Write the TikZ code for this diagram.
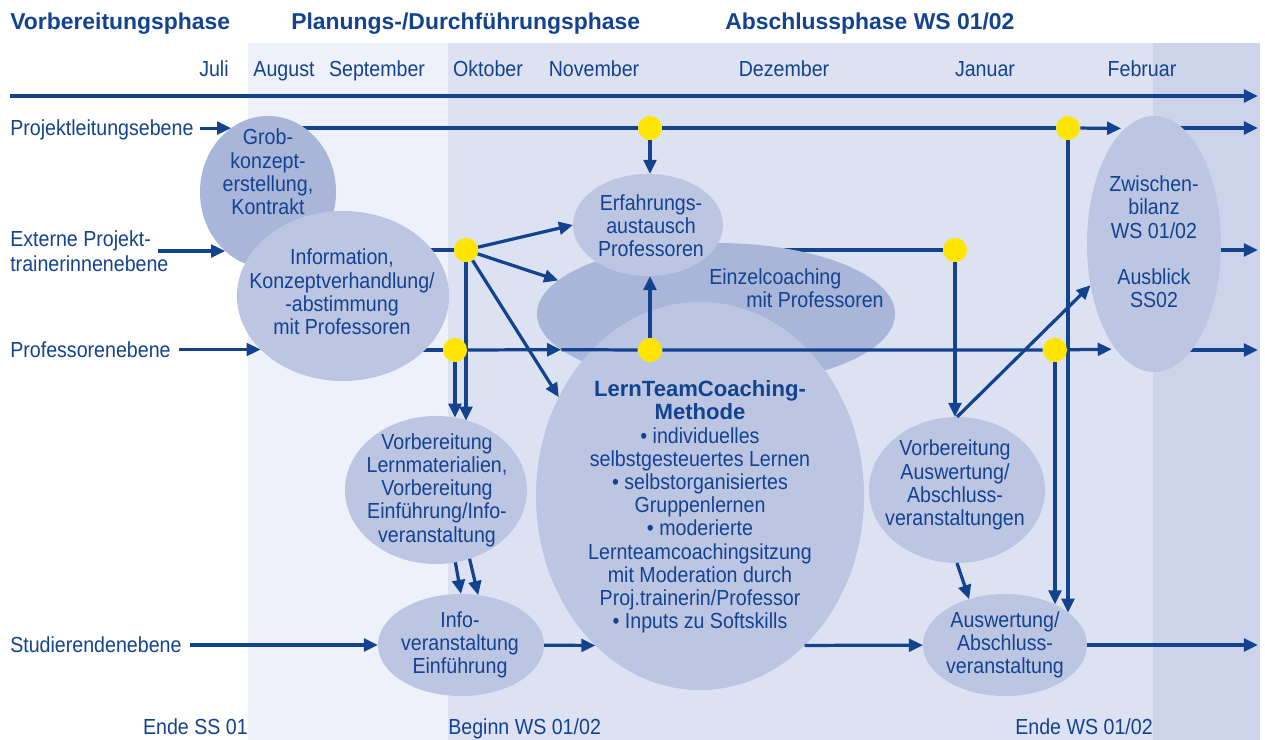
\documentclass[tikz,border=0pt]{standalone}
\usepackage{fontspec}
\setmainfont{Liberation Sans}[FakeStretch=0.9]
\newfontfamily\headfont{Liberation Sans}
\usetikzlibrary{arrows.meta,shapes.geometric}

\definecolor{ink}{HTML}{13428F}
\definecolor{bandA}{HTML}{EEF1F9}
\definecolor{bandB}{HTML}{DDE2F2}
\definecolor{bandC}{HTML}{CDD3EA}
\definecolor{blobA}{HTML}{BCC6E3}
\definecolor{blobB}{HTML}{A9B5D9}
\definecolor{dotY}{HTML}{FFE500}

\pgfdeclarelayer{bands}
\pgfdeclarelayer{under}
\pgfdeclarelayer{front}
\pgfsetlayers{bands,under,main,front}

\begin{document}
\begin{tikzpicture}[x=0.025cm, y=-0.025cm,
  lane/.style={draw=ink, line width=2.3pt},
  tip/.style={-{Triangle[length=10pt,width=9pt]}},
  blob/.style={ellipse, fill=blobA, inner sep=0pt, outer sep=0pt},
  darkblob/.style={blob, fill=blobB},
  txt/.style={font=\fontsize{15.5}{16.5}\selectfont, text=ink, align=center, inner sep=0pt},
  lab/.style={txt, anchor=base west},
  head/.style={font=\headfont\bfseries\fontsize{16.3}{18}\selectfont, text=ink, inner sep=0pt, anchor=base west},
  dot/.style={circle, fill=dotY, minimum size=0.6cm, inner sep=0pt}]

\useasboundingbox (0,0) rectangle (1265,740);

% Phase bands
\begin{pgfonlayer}{bands}
\fill[bandA] (248,43) rectangle (448,740);
\fill[bandB] (448,43) rectangle (1153,740);
\fill[bandC] (1153,43) rectangle (1260,740);
\end{pgfonlayer}

% Phase titles
\node[head] (hVor) at (10,30) {Vorbereitungsphase};
\node[head] (hPlan) at (291,30) {Planungs-/Durchführungsphase};
\node[head] (hAbs) at (725,30) {Abschlussphase WS 01/02};

% Months
\node[txt, anchor=base] (mJul) at (214,77) {Juli};
\node[txt, anchor=base] (mAug) at (284,77) {August};
\node[txt, anchor=base] (mSep) at (377,77) {September};
\node[txt, anchor=base] (mOkt) at (488,77) {Oktober};
\node[txt, anchor=base] (mNov) at (594,77) {November};
\node[txt, anchor=base] (mDez) at (784,77) {Dezember};
\node[txt, anchor=base] (mJan) at (985,77) {Januar};
\node[txt, anchor=base] (mFeb) at (1142,77) {Februar};

% Levels
\node[lab] (lab1) at (10,136) {Projektleitungsebene};
\node[lab] (lab2a) at (10,247) {Externe Projekt-};
\node[lab] (lab2b) at (10,272) {trainerinnenebene};
\node[lab] (lab4) at (10,358) {Professorenebene};
\node[lab] (lab5) at (10,653) {Studierendenebene};

% Semester marks
\node[txt, anchor=base east] (sEnde) at (248,735) {Ende SS 01};
\node[txt, anchor=base west] (sBeg) at (448,735) {Beginn WS 01/02};
\node[txt, anchor=base east] (sEndeWS) at (1153,735) {Ende WS 01/02};

% Ellipses
\node[darkblob, minimum width=3.4cm, minimum height=3.8cm] (grob) at (268,192) {};
\node[blob, minimum width=5.3cm, minimum height=4.25cm] (info) at (343,296) {};
\node[darkblob, minimum width=8.95cm, minimum height=3.55cm] (einzel) at (716,314) {};
\node[blob, minimum width=3.75cm, minimum height=2.55cm] (erf) at (648,225) {};
\node[blob, minimum width=8.2cm, minimum height=9.7cm] (lern) at (700,496) {};
\node[blob, minimum width=4.55cm, minimum height=3.7cm] (vorl) at (436,490) {};
\node[blob, minimum width=4.15cm, minimum height=2.55cm] (infov) at (461,645) {};
\node[blob, minimum width=4.4cm, minimum height=3.65cm] (vora) at (957,490) {};
\node[blob, minimum width=4.1cm, minimum height=2.55cm] (ausw) at (1005,645) {};
\node[blob, minimum width=3.35cm, minimum height=6.4cm] (zwb) at (1154,244) {};

% Ellipse texts
\node[txt] (grobT) at (268,172) {Grob-\\konzept-\\erstellung,\\Kontrakt};
\node[txt] (infoT) at (342,292) {Information,\\Konzeptverhandlung/\\-abstimmung\\mit Professoren};
\node[txt, align=left, anchor=west] (einzelT) at (709,288) {Einzelcoaching\\\hspace*{0.925cm}mit Professoren};
\node[txt] (erfT) at (651,226) {Erfahrungs-\\austausch\\Professoren};
\node[txt] (lernT) at (700,507) {{\headfont\bfseries\fontsize{15.7}{16.5}\selectfont LernTeamCoaching-}\\{\headfont\bfseries\fontsize{15.7}{16.5}\selectfont Methode}\\• individuelles\\selbstgesteuertes Lernen\\• selbstorganisiertes\\Gruppenlernen\\• moderierte\\Lernteamcoachingsitzung\\mit Moderation durch\\Proj.trainerin/Professor\\• Inputs zu Softskills};
\node[txt] (vorlT) at (437,490) {Vorbereitung\\Lernmaterialien,\\Vorbereitung\\Einführung/Info-\\veranstaltung};
\node[txt] (infovT) at (460,645) {Info-\\veranstaltung\\Einführung};
\node[txt] (voraT) at (955,485) {Vorbereitung\\Auswertung/\\Abschluss-\\veranstaltungen};
\node[txt] (auswT) at (1005,645) {Auswertung/\\Abschluss-\\veranstaltung};
\node[txt] (zwbT) at (1154,242) {Zwischen-\\bilanz\\WS 01/02\\[16.5pt]Ausblick\\SS02};

% Junction points
\begin{pgfonlayer}{front}
\node[dot] (D1) at (650,128) {};
\node[dot] (D2) at (1068,128) {};
\node[dot] (D3) at (466,250) {};
\node[dot] (D4) at (955,250) {};
\node[dot] (D5) at (455,350) {};
\node[dot] (D6) at (650,350) {};
\node[dot] (D7) at (1055,350) {};
\end{pgfonlayer}

% Line ends
\coordinate (T0) at (10,96);
\coordinate (T1) at (1258,96);
\coordinate (R1) at (1258,128);
\coordinate (R2) at (1258,250);
\coordinate (R3) at (1258,350);
\coordinate (R4) at (1258,645);

% Time axis
\draw[lane, tip] (T0) -- (T1);

% Lanes partly hidden by the ellipses
\begin{pgfonlayer}{under}
\draw[lane] (grob.center |- D1) -- (D1) -- (D2);
\draw[lane, tip, shorten >=0.1cm] (D2) -- (zwb.104);
\draw[lane, tip] (zwb.center |- D1) -- (R1);
\draw[lane] (info.center |- D3) -- (D3);
\draw[lane] (einzel.center |- D4) -- (D4);
\draw[lane, tip] (zwb.center |- D4) -- (R2);
\draw[lane] (info.center |- D5) -- (D5);
\draw[lane, tip] (D5) -- (einzel.193);
\draw[lane, tip] (zwb.center |- D7) -- (R3);
\end{pgfonlayer}

% Entry arrows
\draw[lane, tip, shorten <=0.15cm] (lab1.east |- grob.120) -- (grob.120);
\draw[lane, tip, shorten <=0.175cm] (lab2a.east |- grob.234) -- (grob.234);
\draw[lane, tip, shorten <=0.2cm] (lab4.east |- info.213) -- (info.213);
\draw[lane, tip, shorten <=0.2cm] (lab5.east |- infov) -- (infov);

% Professorenebene across the coaching
\draw[lane] (einzel.193) -- (D6) -- (D7);
\draw[lane, tip, shorten >=0.1cm] (D7) -- (zwb.250);

% Links
\draw[lane, tip] (D1) -- (D1 |- erf.north);
\draw[lane, tip] (D6) -- (D6 |- erf.south);
\draw[lane, tip] (D3) -- (erf.west);
\draw[lane, tip] (D3) -- (einzel.168);
\draw[lane, tip] (D3) -- (lern.145);
\draw[lane, tip] (D3) -- (D3 |- vorl.65);
\draw[lane, tip] (D5) -- (D5 |- vorl.75);
\draw[lane, tip] (vorl.285) -- (infov.90);
\draw[lane, tip] (vorl.296) -- (infov.71);
\draw[lane, tip] (infov) -- (lern.235);
\draw[lane, tip] (lern.305) -- (ausw);
\draw[lane, tip] (ausw) -- (R4);
\draw[lane, tip] (D4) -- (D4 |- vora.north);
\draw[lane, tip] (vora.north) -- (zwb.213);
\draw[lane, tip] (vora.south) -- (ausw.128);
\draw[lane, tip] (D7) -- (D7 |- ausw.39);
\draw[lane, tip] (D2) -- (D2 |- ausw.27);

\end{tikzpicture}
\end{document}
